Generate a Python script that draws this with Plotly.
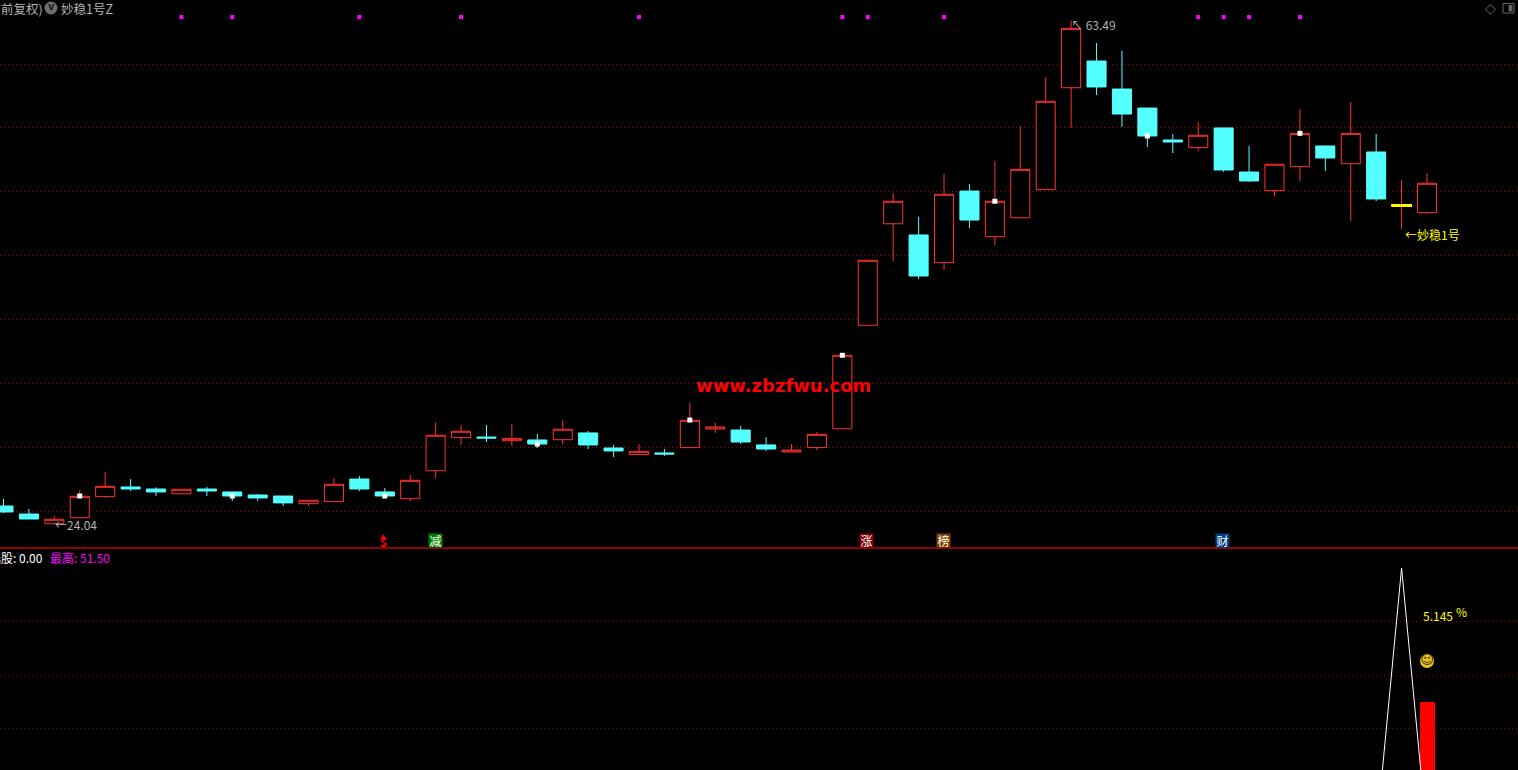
import plotly.graph_objects as go

W, H = 1518, 770
CJK = "Noto Sans CJK SC, Liberation Sans, sans-serif"

opens = [25.47,24.84,24.08,24.55,26.20,26.96,26.80,26.43,26.80,26.57,26.33,26.25,25.65,25.81,27.58,26.57,26.04,28.23,30.82,30.87,
         30.58,30.64,30.66,31.19,30.01,29.49,29.62,30.04,31.50,31.42,30.25,29.70,30.04,31.52,39.62,47.57,46.69,44.52,50.13,46.56,
         48.04,50.24,58.22,60.31,58.12,56.63,54.13,53.53,55.07,51.62,50.16,52.04,53.66,52.27,53.19,48.98,48.44]
highs = [26.02,25.24,24.69,26.72,28.13,27.58,26.93,26.78,26.96,26.57,26.41,26.25,25.92,27.66,27.82,26.88,27.90,31.97,31.81,31.81,
         31.89,31.11,32.20,31.34,30.25,30.32,29.93,33.54,31.97,31.73,30.87,30.32,31.26,37.27,44.71,49.98,48.10,51.47,50.68,52.48,
         55.22,59.06,63.49,61.72,61.10,56.63,54.60,55.54,55.07,53.66,52.23,56.56,53.66,57.10,54.60,51.00,51.54]
lows = [24.92,24.45,24.04,24.53,26.12,26.64,26.25,26.43,26.25,25.86,25.86,25.47,25.47,25.81,26.64,26.25,25.86,27.66,30.25,30.48,
        30.17,30.01,30.32,29.93,29.31,29.49,29.39,30.04,31.19,30.32,29.78,29.70,29.85,31.52,39.62,44.65,43.24,43.95,47.24,45.91,
        48.04,50.24,55.07,57.65,55.15,53.58,53.11,53.27,51.62,50.84,49.74,50.92,51.70,47.79,49.35,47.16,48.33]
closes = [25.00,24.45,24.43,26.23,27.01,26.80,26.57,26.78,26.64,26.25,26.10,25.71,25.92,27.17,26.80,26.25,27.48,31.01,31.32,30.79,
          30.77,30.32,31.48,30.25,29.78,29.75,29.54,32.18,31.66,30.48,29.93,29.85,31.08,37.27,44.71,49.33,43.48,49.88,47.86,49.33,
          51.83,57.16,62.87,58.28,56.16,54.44,53.97,54.50,51.78,50.92,52.23,54.65,52.72,54.65,49.51,49.00,50.74]
bar_index = list(range(len(opens)))

white_idx = [3, 9, 15, 21, 27, 33, 39, 45, 51]
white_val = [26.25, 26.25, 26.25, 30.32, 32.20, 37.27, 49.33, 54.44, 54.65]
signal_idx = [7, 9, 14, 18, 25, 33, 34, 37, 47, 48, 49, 51]
signal_val = [63.76] * len(signal_idx)
stable_val = 49.00
stable_idx = 55

ind_idx = [54, 55, 56]
ind_val = [0.0, 51.50, 0.0]
pct_idx = [56]
pct_val = [5.145]
pct_scale = 5
grid_main = [25.038, 30.05, 35.061, 40.073, 45.084, 50.095, 55.106, 60.0395]
grid_lower = [20.631, 30.823, 41.208]

x_range = [-0.1377, 59.58]
y_range = [22.18, 65.09]
y2_range = [12.65, 55.15]

fig = go.Figure()
fig.add_trace(go.Candlestick(
    x=bar_index, open=opens, high=highs, low=lows, close=closes,
    increasing=dict(line=dict(color="#ff3232", width=1), fillcolor="#000000"),
    decreasing=dict(line=dict(color="#54ffff", width=1), fillcolor="#54ffff"),
    whiskerwidth=0, xaxis="x", yaxis="y", showlegend=False))
fig.add_trace(go.Scatter(x=white_idx, y=white_val, mode="markers",
    marker=dict(symbol="square", size=5, color="#ffffff", line=dict(width=0)), xaxis="x", yaxis="y", showlegend=False))
fig.add_trace(go.Scatter(x=signal_idx, y=signal_val, mode="markers",
    marker=dict(symbol="square", size=4, color="#ff00ff", line=dict(width=0)), xaxis="x", yaxis="y", showlegend=False))
fig.add_trace(go.Scatter(x=[stable_idx - 0.41, stable_idx + 0.41], y=[stable_val, stable_val], mode="lines",
    line=dict(color="#ffff00", width=3), xaxis="x", yaxis="y", showlegend=False))

fig.add_trace(go.Bar(x=pct_idx, y=[v * pct_scale for v in pct_val], width=0.59, marker=dict(color="#ff0000", line=dict(width=0)),
    xaxis="x2", yaxis="y2", showlegend=False))
fig.add_trace(go.Scatter(x=ind_idx, y=ind_val, mode="lines", line=dict(color="#ffffff", width=1),
    xaxis="x2", yaxis="y2", showlegend=False))
fig.add_trace(go.Scatter(x=pct_idx, y=[33.6], mode="markers+text", text=["☺"], textposition="middle center",
    textfont=dict(family="DejaVu Sans", size=13, color="#3a2c00"),
    marker=dict(symbol="circle", size=14, color="#e8c020", line=dict(width=0)), xaxis="x2", yaxis="y2", showlegend=False))

def note(x, y, text, color, size=12, anchor="left", xref="x", yref="y", bg=None, family=CJK, box=None):
    extra = dict(width=box, height=box, align="center", valign="middle") if box else {}
    fig.add_annotation(x=x, y=y, xref=xref, yref=yref, text=text, showarrow=False, xanchor=anchor, yanchor="middle",
                       font=dict(family=family, size=size, color=color), bgcolor=bg, borderpad=0, **extra)

def px(xp):
    return xp / W

def py(yp):
    return 1 - yp / H

GREY = "#b4b4b4"
note(2, 24.04, "←24.04", GREY)
note(41.94, 63.2, "↖ 63.49", GREY)
note(55.1, 46.7, "←妙稳1号", "#ffff00")
note(30.7, 34.87, "<b>www.zbzfwu.com</b>", "#ff0000", size=18, anchor="center", family="DejaVu Sans")

note(14.93, 22.7, "<b>$</b>", "#ff0000", size=12, anchor="center")
note(14.93, 23.1, "▲", "#ff0000", size=6, anchor="center")
note(16.99, 22.77, "减", "#ffffff", size=12, anchor="center", bg="#007f00", box=13)
note(33.95, 22.77, "涨", "#ffffff", size=12, anchor="center", bg="#800000", box=13)
note(36.98, 22.77, "榜", "#ffffff", size=12, anchor="center", bg="#804000", box=13)
note(47.97, 22.77, "财", "#ffffff", size=12, anchor="center", bg="#004080", box=13)

note(px(0), py(8), "前复权)", GREY, size=12.5, xref="paper", yref="paper")
note(px(60), py(8), "妙稳1号Z", GREY, size=12.5, xref="paper", yref="paper")
note(px(51), py(7), "<b>v</b>", "#1a1a1a", size=10, anchor="center", xref="paper", yref="paper", family="DejaVu Sans")
note(px(1490), py(8), "◇", "#666666", size=14, anchor="center", xref="paper", yref="paper", family="DejaVu Sans")

note(px(44), py(557), "选股: 0.00", "#ffffff", anchor="right", xref="paper", yref="paper")
note(px(49), py(557), "最高: 51.50", "#ff00ff", xref="paper", yref="paper")
note(56.43, 42.3, "5.145", "#ffff00", anchor="center", xref="x2", yref="y2")
note(57.35, 43.2, "%", "#ffff00", anchor="center", xref="x2", yref="y2")

shapes = [
    dict(type="line", xref="paper", yref="paper", x0=0, x1=1, y0=py(548), y1=py(548), line=dict(color="#c00000", width=1.5)),
    dict(type="circle", xref="paper", yref="paper", x0=px(44.5), x1=px(57.5), y0=py(1.5), y1=py(14.5),
         fillcolor="#6e6e6e", line=dict(width=0), layer="below"),
    dict(type="rect", xref="paper", yref="paper", x0=px(1503), x1=px(1514), y0=py(3.5), y1=py(13),
         fillcolor="#000000", line=dict(color="#666666", width=1)),
    dict(type="rect", xref="paper", yref="paper", x0=px(1508.5), x1=px(1512.5), y0=py(5), y1=py(11.5),
         fillcolor="#666666", line=dict(width=0)),
]

grid = dict(showgrid=True, gridcolor="#a80000", griddash="1px,3px", gridwidth=1, zeroline=False,
            showticklabels=False, ticks="", showline=False, tickmode="array")
fig.update_layout(
    width=W, height=H, margin=dict(l=0, r=0, t=0, b=0),
    paper_bgcolor="#000000", plot_bgcolor="#000000", boxgap=0.25, boxgroupgap=0, bargap=0, showlegend=False, hovermode=False,
    shapes=shapes,
    xaxis=dict(domain=[0, 1], range=x_range, anchor="y", showgrid=False, zeroline=False, showticklabels=False,
               ticks="", rangeslider=dict(visible=False)),
    xaxis2=dict(domain=[0, 1], range=x_range, anchor="y2", matches="x", showgrid=False, zeroline=False,
                showticklabels=False, ticks=""),
    yaxis=dict(domain=[1 - 548 / H, 1], range=y_range, tickvals=grid_main, **grid),
    yaxis2=dict(domain=[0, 221 / H], range=y2_range, tickvals=grid_lower, **grid),
)
fig.write_html("out.html", config=dict(displayModeBar=False),
               post_script="document.body.style.margin='0';document.body.style.background='#000';document.body.style.overflow='hidden';")
